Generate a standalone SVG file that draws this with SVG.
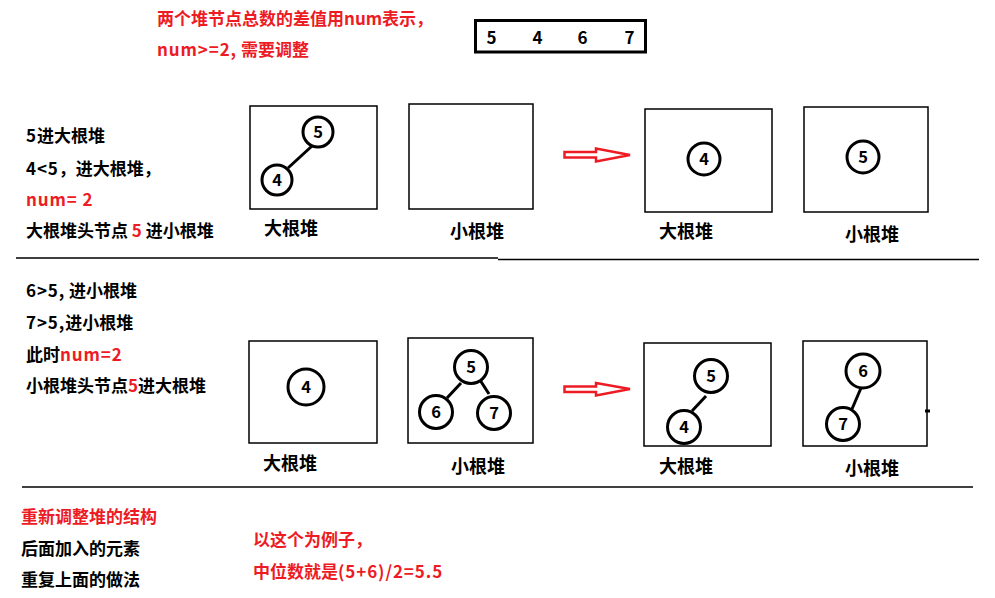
<svg xmlns="http://www.w3.org/2000/svg" width="995" height="598" viewBox="0 0 995 598">
<style>
text{font-family:"Noto Sans CJK SC","Noto Sans",sans-serif;font-weight:bold;font-size:17px;fill:#000}
.r{fill:#ed1c24}
.w{letter-spacing:0.9px}
.lbl{font-size:18px}
.box{fill:none;stroke:#000;stroke-width:1.5}
.nd circle{fill:#fff;stroke:#000;stroke-width:3}
.nd text{font-size:16.5px;text-anchor:middle}
.edge{stroke:#000;stroke-width:3;fill:none}
.sep{stroke:#000;stroke-width:1.5}
.arrow{fill:#fff;stroke:#ed1c24;stroke-width:2.5;stroke-linejoin:miter}
</style>
<rect width="995" height="598" fill="#fff"/>

<g id="title">
<text class="r" x="157" y="25">两个堆节点总数的差值用num表示，</text>
<text class="r" x="157" y="56"><tspan class="w">num&gt;=2,</tspan> 需要调整</text>
</g>

<g id="sequence">
<rect x="475.5" y="20.5" width="170" height="31.5" fill="none" stroke="#000" stroke-width="3"/>
<text x="491.5" y="44" text-anchor="middle">5</text>
<text x="537.5" y="44" text-anchor="middle">4</text>
<text x="582.5" y="44" text-anchor="middle">6</text>
<text x="629.5" y="44" text-anchor="middle">7</text>
</g>

<g id="step1-text">
<text x="26" y="142"><tspan class="w">5</tspan>进大根堆</text>
<text x="26" y="175"><tspan class="w">4&lt;5</tspan>，进大根堆，</text>
<text class="r" x="26" y="206"><tspan class="w">num= 2</tspan></text>
<text x="26" y="237">大根堆头节点 <tspan class="r">5</tspan> 进小根堆</text>
</g>

<g id="connectors">
<line class="edge" x1="312" y1="146" x2="288" y2="168"/>
<line class="edge" x1="461" y1="383" x2="447" y2="398"/>
<line class="edge" x1="480" y1="380" x2="489" y2="394"/>
<line class="edge" x1="706" y1="396" x2="692" y2="411"/>
<line class="edge" x1="861" y1="388" x2="852" y2="409"/>
<polygon class="arrow" points="564.5,152 596,152 596,148.5 630,155 596,161.5 596,157.5 564.5,157.5"/>
<polygon class="arrow" points="564.5,386.5 596,386.5 596,383 630,389 596,395.5 596,392 564.5,392"/>
</g>

<g id="s1-max-before">
<rect class="box" x="250" y="106" width="127" height="103"/>
<g class="nd"><circle cx="318" cy="132" r="15"/><text x="318" y="138">5</text></g>
<g class="nd"><circle cx="277" cy="180" r="15"/><text x="277" y="186">4</text></g>
<text class="lbl" x="264" y="235">大根堆</text>
</g>

<g id="s1-min-before">
<rect class="box" x="409" y="104" width="124" height="105"/>
<text class="lbl" x="450" y="238">小根堆</text>
</g>

<g id="s1-max-after">
<rect class="box" x="645" y="109" width="127" height="103"/>
<g class="nd"><circle cx="704" cy="159" r="16"/><text x="704" y="165">4</text></g>
<text class="lbl" x="659" y="238">大根堆</text>
</g>

<g id="s1-min-after">
<rect class="box" x="804" y="107" width="124" height="105"/>
<g class="nd"><circle cx="863" cy="157" r="16"/><text x="863" y="163">5</text></g>
<text class="lbl" x="845" y="241">小根堆</text>
</g>

<g id="separators">
<line class="sep" x1="16" y1="258" x2="498" y2="258"/>
<line class="sep" x1="498" y1="259.5" x2="979" y2="259.5"/>
<line class="sep" x1="22" y1="487" x2="973" y2="487"/>
</g>

<g id="step2-text">
<text x="26" y="297"><tspan class="w">6&gt;5,</tspan> 进小根堆</text>
<text x="26" y="329"><tspan class="w">7&gt;5,</tspan>进小根堆</text>
<text x="26" y="361">此时<tspan class="r w">num=2</tspan></text>
<text x="26" y="392">小根堆头节点<tspan class="r">5</tspan>进大根堆</text>
</g>

<g id="s2-max-before">
<rect class="box" x="249" y="341" width="128" height="102"/>
<g class="nd"><circle cx="306" cy="387" r="18"/><text x="306" y="393">4</text></g>
<text class="lbl" x="263" y="470">大根堆</text>
</g>

<g id="s2-min-before">
<rect class="box" x="408" y="338" width="125" height="105"/>
<g class="nd"><circle cx="471" cy="367" r="16.5"/><text x="471" y="373">5</text></g>
<g class="nd"><circle cx="436" cy="412" r="16.5"/><text x="436" y="418">6</text></g>
<g class="nd"><circle cx="494" cy="413" r="16.5"/><text x="494" y="419">7</text></g>
<text class="lbl" x="451" y="473">小根堆</text>
</g>

<g id="s2-max-after">
<rect class="box" x="644" y="343" width="127" height="103"/>
<g class="nd"><circle cx="711" cy="376" r="16.5"/><text x="711" y="382">5</text></g>
<g class="nd"><circle cx="684" cy="427" r="16.5"/><text x="684" y="433">4</text></g>
<text class="lbl" x="659" y="473">大根堆</text>
</g>

<g id="s2-min-after">
<rect class="box" x="803" y="341" width="124" height="105"/>
<g class="nd"><circle cx="863" cy="371" r="17"/><text x="863" y="377">6</text></g>
<g class="nd"><circle cx="843" cy="424" r="16.5"/><text x="843" y="430">7</text></g>
<line x1="925" y1="411" x2="930" y2="411" stroke="#000" stroke-width="3"/>
<text class="lbl" x="845" y="475">小根堆</text>
</g>

<g id="conclusion">
<text class="r" x="21" y="523">重新调整堆的结构</text>
<text x="21" y="555">后面加入的元素</text>
<text x="21" y="586">重复上面的做法</text>
<text class="r" x="253" y="546">以这个为例子，</text>
<text class="r" x="253" y="578">中位数就是<tspan class="w">(5+6)/2=5.5</tspan></text>
</g>
</svg>
